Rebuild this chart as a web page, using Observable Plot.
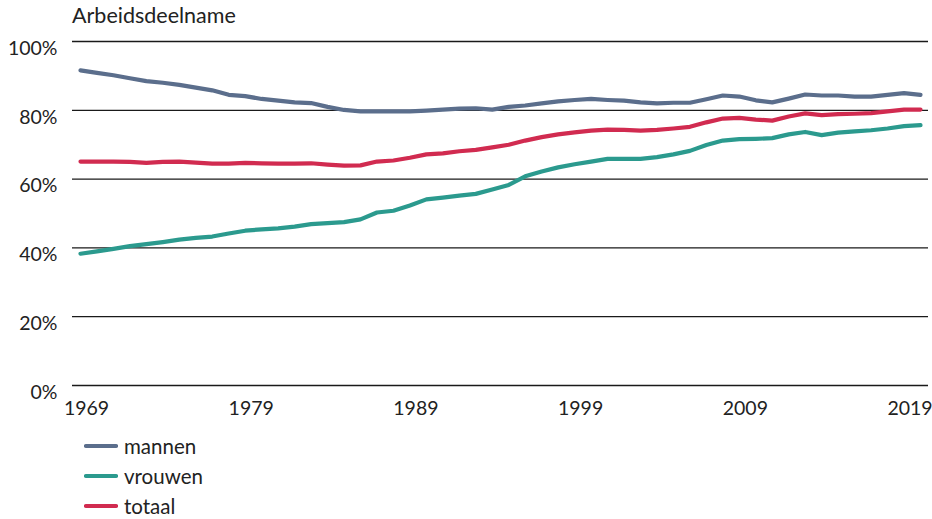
<!DOCTYPE html>
<html>
<head>
<meta charset="utf-8">
<script src="https://cdn.jsdelivr.net/npm/d3@7"></script>
<script src="https://cdn.jsdelivr.net/npm/@observablehq/plot@0.6"></script>
<style>
  body { margin: 0; background: #fff; font-family: Lato, "Open Sans", sans-serif; color: #222; }
  #wrap { position: relative; width: 932px; height: 519px; }
  #title { position: absolute; left: 72px; top: 2px; font-size: 21.5px; }
  #chart { position: absolute; left: 0; top: 0; }
  #legend { position: absolute; left: 84px; top: 431px; font-size: 20.5px; }
  .item { display: flex; align-items: center; height: 30.2px; }
  .item svg { margin-right: 6px; }
</style>
</head>
<body>
<div id="wrap">
  <div id="chart"></div>
  <div id="title">Arbeidsdeelname</div>
  <div id="legend"></div>
</div>
<script>
const years = [1969,1970,1971,1972,1973,1974,1975,1976,1977,1978,1979,1980,1981,1982,1983,1984,1985,1986,1987,1988,1989,1990,1991,1992,1993,1994,1995,1996,1997,1998,1999,2000,2001,2002,2003,2004,2005,2006,2007,2008,2009,2010,2011,2012,2013,2014,2015,2016,2017,2018,2019,2020];
const mannen = [91.6,90.9,90.2,89.3,88.5,88.0,87.4,86.6,85.8,84.5,84.1,83.3,82.8,82.3,82.1,81.0,80.1,79.7,79.7,79.7,79.7,79.9,80.2,80.5,80.6,80.2,81.0,81.4,82.0,82.6,83.0,83.3,83.0,82.8,82.3,82.0,82.2,82.2,83.2,84.3,84.0,82.9,82.3,83.4,84.6,84.3,84.3,84.0,84.0,84.5,85.0,84.5];
const vrouwen = [38.3,39.0,39.7,40.5,41.1,41.7,42.4,42.9,43.3,44.2,45.0,45.4,45.7,46.2,46.9,47.2,47.5,48.3,50.3,50.8,52.3,54.1,54.6,55.2,55.7,57.0,58.3,60.8,62.2,63.4,64.3,65.1,65.9,65.9,65.9,66.4,67.2,68.2,69.9,71.2,71.6,71.7,71.9,73.0,73.7,72.8,73.5,73.9,74.2,74.7,75.4,75.7];
const totaal = [65.1,65.1,65.1,65.0,64.7,65.0,65.1,64.8,64.5,64.5,64.7,64.6,64.5,64.5,64.6,64.2,63.9,64.0,65.1,65.4,66.2,67.2,67.5,68.1,68.5,69.2,70.0,71.2,72.2,73.0,73.6,74.1,74.4,74.3,74.1,74.3,74.7,75.2,76.5,77.6,77.8,77.3,77.0,78.2,79.1,78.6,78.9,79.0,79.2,79.7,80.2,80.2];
const seriesNames = ["mannen", "vrouwen", "totaal"];
const seriesColors = ["#5b6e8c", "#2b9a8e", "#d12b50"];
const yTicks = [0, 20, 40, 60, 80, 100];
const xTicks = [1969, 1979, 1989, 1999, 2009, 2019];

const seriesValues = [mannen, vrouwen, totaal];
const data = [];
seriesNames.forEach((name, s) => {
  years.forEach((yr, i) => data.push({year: yr, value: seriesValues[s][i], series: name}));
});

const chart = Plot.plot({
  width: 932,
  height: 425,
  marginTop: 41,
  marginBottom: 40,
  marginLeft: 80,
  marginRight: 12,
  style: {fontFamily: "Lato, 'Open Sans', sans-serif", fontSize: "19px", color: "#222", background: "transparent"},
  x: {domain: [1969, 2020], label: null},
  y: {domain: [0, 100], label: null},
  color: {domain: seriesNames, range: seriesColors},
  marks: [
    Plot.ruleY(yTicks, {stroke: "#1a1a1a", strokeWidth: 1.3, insetLeft: -8, insetRight: -8}),
    Plot.axisY({ticks: yTicks, tickSize: 0, tickPadding: 23, tickFormat: d => d + "%", dy: 7, fill: "#222", fontSize: 19.5, label: null}),
    Plot.axisX({ticks: xTicks, tickSize: 0, tickPadding: 16, tickFormat: d => String(d), dx: 6, fill: "#222", fontSize: 19.5, label: null}),
    Plot.line(data, {x: "year", y: "value", z: "series", stroke: "series", strokeWidth: 4.2, strokeLinejoin: "round", strokeLinecap: "round"})
  ]
});
document.getElementById("chart").appendChild(chart);

const legend = document.getElementById("legend");
seriesNames.forEach((name, i) => {
  const item = document.createElement("div");
  item.className = "item";
  item.innerHTML = `<svg width="34" height="8"><line x1="2" y1="4" x2="32" y2="4" stroke="${seriesColors[i]}" stroke-width="4.2" stroke-linecap="round"/></svg><span>${name}</span>`;
  legend.appendChild(item);
});
</script>
</body>
</html>
